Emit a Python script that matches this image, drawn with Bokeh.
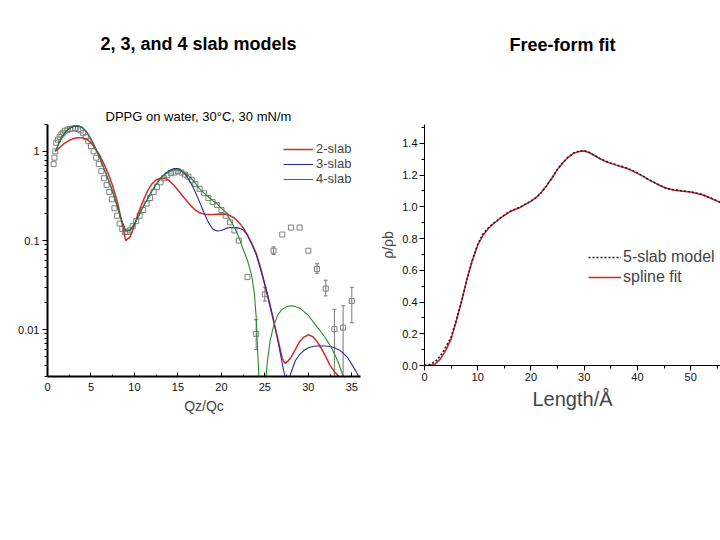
from bokeh.plotting import figure
from bokeh.models import (Title, FixedTicker, CustomJSTickFormatter, PrintfTickFormatter,
                          Range1d, Whisker, ColumnDataSource, TeeHead)
from bokeh.layouts import row
from bokeh.embed import file_html
from bokeh.resources import INLINE

FONT = "Liberation Sans"

# ---------------- Left panel data (reflectivity, log scale) ----------------
left_title = "2, 3, and 4 slab models"
left_inner_title = "DPPG on water, 30°C, 30 mN/m"
left_xlabel = "Qz/Qc"
left_series = ["2-slab", "3-slab", "4-slab"]

red_x = [0.9, 1.5, 2.0, 2.5, 3.0, 3.5, 4.0, 4.5, 5.0, 5.5, 6.0, 6.5, 7.0, 7.5, 8.0, 8.5,
         9.0, 9.5, 10.0, 10.5, 11.0, 11.5, 12.0, 12.5, 13.0, 13.5, 14.0, 14.5, 15.0, 15.5,
         16.0, 16.5, 17.0, 17.5, 18.0, 18.5, 19.0, 19.5, 20.0, 20.5, 21.0, 21.5, 22.0, 22.5,
         23.0, 23.5, 24.0, 24.5, 25.0, 25.5, 26.0, 26.5, 27.0, 27.3, 27.6, 28.0, 28.5, 29.0,
         29.5, 30.0, 30.5, 31.0, 31.5, 32.0, 32.5, 33.0, 33.5, 33.8]
red_y = [1.0, 1.13, 1.24, 1.33, 1.39, 1.42, 1.42, 1.37, 1.25, 1.08, 0.90, 0.72, 0.56, 0.41,
         0.28, 0.17, 0.10, 0.11, 0.15, 0.21, 0.28, 0.36, 0.43, 0.48, 0.50, 0.50, 0.47, 0.42,
         0.37, 0.32, 0.28, 0.245, 0.22, 0.205, 0.198, 0.196, 0.196, 0.198, 0.199, 0.197, 0.19,
         0.178, 0.16, 0.14, 0.115, 0.092, 0.072, 0.05, 0.032, 0.02, 0.0125, 0.0078, 0.0048,
         0.0042, 0.0044, 0.0049, 0.006, 0.0074, 0.0083, 0.0088, 0.0084, 0.0074, 0.0062,
         0.005, 0.004, 0.0034, 0.003, 0.0028]

blue_x = [0.9, 1.5, 2.0, 2.5, 3.0, 3.5, 4.0, 4.5, 5.0, 5.5, 6.0, 6.5, 7.0, 7.5, 8.0, 8.5,
          9.0, 9.5, 10.0, 10.5, 11.0, 11.5, 12.0, 12.5, 13.0, 13.5, 14.0, 14.5, 15.0, 15.5,
          16.0, 16.5, 17.0, 17.5, 18.0, 18.5, 19.0, 19.5, 20.0, 20.5, 21.0, 21.5, 22.0, 22.5,
          23.0, 23.5, 24.0, 24.5, 25.0, 25.5, 26.0, 26.5, 27.0, 27.3, 27.6, 28.0, 28.5, 29.0,
          29.5, 30.0, 30.5, 31.0, 31.5, 32.0, 32.5, 33.0, 33.5, 34.0, 34.5, 35.0, 35.5, 35.9]
blue_y = [1.0, 1.35, 1.62, 1.80, 1.90, 1.93, 1.85, 1.65, 1.38, 1.10, 0.85, 0.64, 0.48, 0.35,
          0.245, 0.17, 0.128, 0.13, 0.155, 0.19, 0.24, 0.29, 0.36, 0.43, 0.50, 0.56, 0.61,
          0.64, 0.64, 0.60, 0.53, 0.44, 0.35, 0.27, 0.205, 0.16, 0.135, 0.128, 0.13, 0.137,
          0.14, 0.14, 0.138, 0.132, 0.115, 0.092, 0.07, 0.048, 0.032, 0.021, 0.013, 0.0075,
          0.0042, 0.003, 0.0025, 0.0033, 0.0045, 0.0053, 0.0059, 0.0063, 0.0065, 0.0066,
          0.0066, 0.0066, 0.0065, 0.0063, 0.006, 0.0055, 0.0049, 0.0041, 0.0034, 0.0029]

green_x = [0.9, 1.5, 2.0, 2.5, 3.0, 3.5, 4.0, 4.5, 5.0, 5.5, 6.0, 6.5, 7.0, 7.5, 8.0, 8.5,
           9.0, 9.5, 10.0, 10.5, 11.0, 11.5, 12.0, 12.5, 13.0, 13.5, 14.0, 14.5, 15.0, 15.5,
           16.0, 16.5, 17.0, 17.5, 18.0, 18.5, 19.0, 19.5, 20.0, 20.5, 21.0, 21.5, 22.0, 22.5,
           23.0, 23.5, 23.8, 24.0, 24.2, 24.35, 24.7, 25.0, 25.3, 25.6, 26.0, 26.5, 27.0, 27.5,
           28.0, 28.5, 29.0, 29.5, 30.0, 30.5, 31.0, 31.5, 32.0, 32.5, 33.0, 33.5, 34.0, 34.2]
green_y = [1.0, 1.36, 1.64, 1.82, 1.93, 1.95, 1.86, 1.66, 1.38, 1.10, 0.85, 0.64, 0.48, 0.35,
           0.245, 0.17, 0.128, 0.13, 0.155, 0.19, 0.24, 0.29, 0.36, 0.43, 0.50, 0.55, 0.59,
           0.62, 0.62, 0.59, 0.56, 0.50, 0.44, 0.38, 0.34, 0.31, 0.28, 0.26, 0.23, 0.21, 0.17,
           0.14, 0.11, 0.08, 0.06, 0.04, 0.025, 0.014, 0.005, 0.0025, 0.001, 0.0022, 0.0045,
           0.0075, 0.011, 0.0148, 0.017, 0.0182, 0.0186, 0.0183, 0.0175, 0.016, 0.0145,
           0.0125, 0.0108, 0.0094, 0.008, 0.0067, 0.0054, 0.0042, 0.003, 0.0027]

data_x = [0.7, 0.8, 0.9, 1.0, 1.2, 1.4, 1.6, 1.8, 2.0, 2.3, 2.6, 2.9, 3.2, 3.5, 3.8, 4.1,
          4.4, 4.7, 5.0, 5.3, 5.6, 5.9, 6.2, 6.5, 6.8, 7.1, 7.4, 7.7, 8.0, 8.3, 8.6, 8.9,
          9.2, 9.5, 9.8, 10.2, 10.6, 11.0, 11.4, 11.8, 12.2, 12.6, 13.0, 13.4, 13.8, 14.2,
          14.6, 15.0, 15.4, 15.8, 16.2, 16.6, 17.0, 17.5, 18.0, 18.5, 19.0, 19.5, 20.0,
          20.5, 21.0, 21.5, 22.0, 23.0, 24.0, 25.0, 26.0, 27.0, 28.0, 29.0, 30.0, 31.0,
          32.0, 33.0, 34.0, 35.0]
data_y = [0.72, 0.85, 1.0, 1.25, 1.35, 1.45, 1.55, 1.62, 1.7, 1.75, 1.78, 1.8, 1.82, 1.78,
          1.72, 1.6, 1.45, 1.3, 1.15, 1.0, 0.85, 0.72, 0.6, 0.5, 0.42, 0.35, 0.29, 0.23,
          0.19, 0.155, 0.135, 0.125, 0.125, 0.13, 0.145, 0.165, 0.19, 0.22, 0.26, 0.3,
          0.35, 0.4, 0.45, 0.5, 0.54, 0.57, 0.58, 0.6, 0.58, 0.55, 0.52, 0.48, 0.43, 0.38,
          0.34, 0.3, 0.27, 0.25, 0.22, 0.19, 0.16, 0.13, 0.1, 0.039, 0.009, 0.025, 0.077,
          0.117, 0.14, 0.14, 0.077, 0.048, 0.029, 0.0102, 0.0106, 0.021]
err_x = [24.0, 25.0, 26.0, 31.0, 32.0, 33.0, 34.0, 35.0]
err_low = [0.006, 0.021, 0.07, 0.043, 0.024, 0.0025, 0.0025, 0.012]
err_high = [0.013, 0.03, 0.085, 0.055, 0.036, 0.017, 0.0186, 0.030]

# ---------------- Right panel data (SLD profile) ----------------
right_title = "Free-form fit"
right_xlabel = "Length/Å"
right_ylabel = "ρ/ρb"
right_series = ["5-slab model", "spline fit"]

prof_x = [0, 1, 2, 3, 4, 5, 6, 7, 8, 9, 10, 11, 12, 13, 14, 15, 16, 17, 18, 19, 20, 21, 22,
          23, 24, 25, 26, 27, 28, 29, 30, 31, 32, 33, 34, 35, 36, 37, 38, 39, 40, 41, 42, 43,
          44, 45, 46, 47, 48, 49, 50, 51, 52, 53, 54, 55, 56]
spline_y = [0.0, 0.0, 0.01, 0.042, 0.095, 0.168, 0.284, 0.41, 0.547, 0.663, 0.758, 0.821,
            0.863, 0.895, 0.922, 0.947, 0.968, 0.983, 0.996, 1.015, 1.036, 1.059, 1.095,
            1.137, 1.185, 1.236, 1.278, 1.312, 1.337, 1.349, 1.352, 1.341, 1.322, 1.303,
            1.286, 1.274, 1.263, 1.253, 1.242, 1.227, 1.211, 1.194, 1.173, 1.156, 1.139,
            1.122, 1.112, 1.105, 1.101, 1.097, 1.093, 1.086, 1.078, 1.065, 1.051, 1.036, 1.02]
slab5_y = [0.0, 0.008, 0.025, 0.06, 0.115, 0.18, 0.29, 0.41, 0.545, 0.665, 0.765, 0.83,
           0.868, 0.897, 0.923, 0.948, 0.97, 0.985, 1.0, 1.018, 1.036, 1.058, 1.092, 1.135,
           1.185, 1.238, 1.28, 1.314, 1.339, 1.351, 1.354, 1.343, 1.323, 1.304, 1.288,
           1.276, 1.265, 1.255, 1.245, 1.23, 1.213, 1.195, 1.174, 1.156, 1.139, 1.123,
           1.113, 1.106, 1.102, 1.098, 1.094, 1.087, 1.079, 1.066, 1.052, 1.037, 1.021]

TOP = 124
BOTTOM = 62


def title(text, offset, standoff, size, bold):
    return Title(text=text, align="left", offset=offset, standoff=standoff,
                 text_font=FONT, text_font_size=size,
                 text_font_style="bold" if bold else "normal", text_color="black")


# ---------------- Left figure ----------------
left = figure(width=376, height=376 + BOTTOM, y_axis_type="log",
              x_range=Range1d(0, 36), y_range=Range1d(0.003, 2.0),
              output_backend="svg", toolbar_location=None,
              min_border_left=47, min_border_right=16, min_border_top=TOP,
              min_border_bottom=BOTTOM)
left.outline_line_color = None
left.grid.visible = False

src = ColumnDataSource(dict(x=err_x, lower=err_low, upper=err_high))
left.add_layout(Whisker(source=src, base="x", lower="lower", upper="upper",
                        line_color="#777777", line_width=1,
                        upper_head=TeeHead(size=4, line_color="#777777"),
                        lower_head=TeeHead(size=4, line_color="#777777")))
left.scatter(data_x, data_y, marker="square", size=5, fill_color=None,
             line_color="#808080", line_width=1)

left.line(red_x, red_y, color="#d42a2a", line_width=1.5, legend_label=left_series[0])
left.line(blue_x, blue_y, color="#2b2b9c", line_width=1.1, legend_label=left_series[1])
left.line(green_x, green_y, color="#2a8a2a", line_width=1.1, legend_label=left_series[2])

lg = left.legend[0]
lg.location = (236, 190)
lg.background_fill_alpha = 0
lg.border_line_color = None
lg.padding = 0
lg.margin = 0
lg.spacing = 0
lg.glyph_width = 30
lg.glyph_height = 14
lg.label_height = 14
lg.label_standoff = 3
lg.label_text_font = FONT
lg.label_text_font_size = "13px"

left.xaxis.ticker = FixedTicker(ticks=[0, 5, 10, 15, 20, 25, 30, 35],
                                minor_ticks=[2.5, 7.5, 12.5, 17.5, 22.5, 27.5, 32.5])
left.yaxis.ticker = FixedTicker(
    ticks=[0.01, 0.1, 1],
    minor_ticks=[0.003, 0.004, 0.005, 0.006, 0.007, 0.008, 0.009,
                 0.02, 0.03, 0.04, 0.05, 0.06, 0.07, 0.08, 0.09,
                 0.2, 0.3, 0.4, 0.5, 0.6, 0.7, 0.8, 0.9, 2])
left.yaxis.formatter = CustomJSTickFormatter(code="return String(tick);")
for ax in (left.xaxis[0], left.yaxis[0]):
    ax.axis_line_width = 2
    ax.axis_line_color = "black"
    ax.major_tick_line_color = "black"
    ax.minor_tick_line_color = "black"
    ax.major_label_text_font = FONT
    ax.major_label_text_font_size = "11px"
    ax.major_label_text_color = "#111111"
left.xaxis.major_tick_in = 4
left.xaxis.major_tick_out = 0
left.xaxis.minor_tick_in = 2
left.xaxis.minor_tick_out = 0
left.xaxis.major_label_standoff = 6
left.yaxis.major_tick_in = 0
left.yaxis.major_tick_out = 5
left.yaxis.minor_tick_in = 0
left.yaxis.minor_tick_out = 3
left.yaxis.major_label_standoff = 3
left.xaxis.axis_label = left_xlabel
left.xaxis.axis_label_text_font = FONT
left.xaxis.axis_label_text_font_style = "normal"
left.xaxis.axis_label_text_font_size = "14px"
left.xaxis.axis_label_standoff = 4

# stacked from the frame outward: inner title, spacer, main title
left.add_layout(title(left_inner_title, 58, 2, "13px", False), "above")
left.add_layout(title(" ", 0, 6, "13px", False), "above")
left.add_layout(title(left_title, 53, 58, "18px", True), "above")

# ---------------- Right figure ----------------
RSCALE = 158.6
right = figure(width=344, height=365 + BOTTOM,
               x_range=Range1d(0, 55.6), y_range=Range1d(0, 1.5 + 3 / RSCALE),
               output_backend="svg", toolbar_location=None,
               min_border_left=48, min_border_right=0, min_border_top=TOP,
               min_border_bottom=BOTTOM)
right.outline_line_color = None
right.grid.visible = False

right.line(prof_x, spline_y, color="#d42030", line_width=1.5, legend_label=right_series[1])
right.line(prof_x, slab5_y, color="#222222", line_width=1.6, line_dash="2 2",
           legend_label=right_series[0])

lg2 = right.legend[0]
items = list(lg2.items)
lg2.items = [items[1], items[0]]
lg2.location = (164, 78)
lg2.background_fill_alpha = 0
lg2.border_line_color = None
lg2.padding = 0
lg2.margin = 0
lg2.spacing = 0
lg2.glyph_width = 33
lg2.glyph_height = 20
lg2.label_height = 20
lg2.label_standoff = 2
lg2.label_text_font = FONT
lg2.label_text_font_size = "16px"

right.xaxis.ticker = FixedTicker(ticks=[0, 10, 20, 30, 40, 50],
                                 minor_ticks=[5, 15, 25, 35, 45, 55])
right.yaxis.ticker = FixedTicker(ticks=[0, 0.2, 0.4, 0.6, 0.8, 1.0, 1.2, 1.4],
                                 minor_ticks=[0.1, 0.3, 0.5, 0.7, 0.9, 1.1, 1.3, 1.5])
right.yaxis.formatter = PrintfTickFormatter(format="%.1f")
for ax in (right.xaxis[0], right.yaxis[0]):
    ax.axis_line_width = 1
    ax.axis_line_color = "black"
    ax.major_tick_line_color = "black"
    ax.minor_tick_line_color = "black"
    ax.major_tick_in = 0
    ax.major_tick_out = 5
    ax.minor_tick_in = 0
    ax.minor_tick_out = 3
    ax.major_label_text_font = FONT
    ax.major_label_text_font_size = "11px"
    ax.major_label_text_color = "#111111"
    ax.major_label_standoff = 2
right.xaxis.axis_label = right_xlabel
right.xaxis.axis_label_text_font = FONT
right.xaxis.axis_label_text_font_style = "normal"
right.xaxis.axis_label_text_font_size = "20px"
right.xaxis.axis_label_standoff = 4
right.yaxis.axis_label = right_ylabel
right.yaxis.axis_label_text_font = FONT
right.yaxis.axis_label_text_font_style = "normal"
right.yaxis.axis_label_text_font_size = "14px"
right.yaxis.axis_label_standoff = 3

right.add_layout(title(" ", 0, 24, "13px", False), "above")
right.add_layout(title(right_title, 85, 58, "18px", True), "above")

layout = row(left, right)
open("out.html", "w").write(file_html(layout, INLINE))
